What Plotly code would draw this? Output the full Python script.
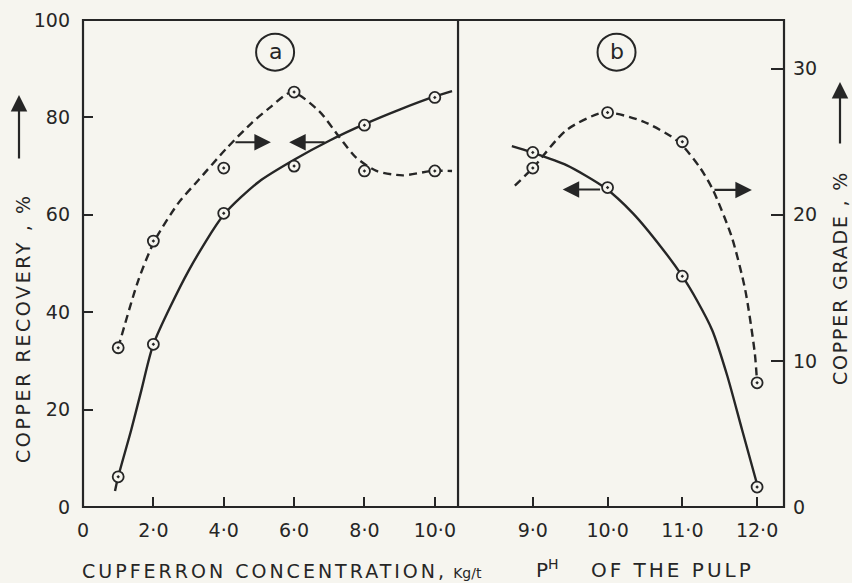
import plotly.graph_objects as go

# ---------------- data ----------------
# Panel (a): cupferron concentration, kg/t
conc_points = [1.0, 2.0, 4.0, 6.0, 8.0, 10.0]
rec_a_points = [6.2, 33.4, 60.3, 70.0, 78.4, 84.1]          # copper recovery, %
grade_a_points = [10.9, 18.2, 23.2, 28.4, 23.0, 23.0]       # copper grade, %

# traced curves of panel (a)
rec_a_curve_x = [0.91, 1.0, 1.37, 1.66, 2.0, 3.0, 4.0, 5.0, 6.0, 7.0, 8.0, 9.0, 10.0, 10.49]
rec_a_curve_y = [3.3, 6.2, 15.8, 24.0, 33.4, 48.5, 60.0, 66.8, 71.3, 75.2, 78.6, 81.6, 84.3, 85.4]
grade_a_curve_x = [1.0, 1.57, 2.03, 2.71, 3.29, 4.06, 4.8, 5.29, 5.94, 6.71, 7.29, 7.77, 8.34, 9.09, 9.91, 10.49]
grade_a_curve_y = [10.9, 15.5, 18.2, 20.8, 22.4, 24.5, 26.3, 27.3, 28.4, 27.1, 25.3, 23.9, 23.0, 22.7, 23.0, 23.0]

# Panel (b): pH of the pulp
ph_points = [9.0, 10.0, 11.0, 12.0]
rec_b_points = [72.8, 65.6, 47.4, 4.1]
grade_b_points = [23.2, 27.0, 25.0, 8.5]

rec_b_curve_x = [8.72, 8.99, 9.45, 9.96, 10.34, 10.72, 11.0, 11.2, 11.4, 11.6, 11.8, 12.01]
rec_b_curve_y = [74.1, 72.8, 70.2, 65.6, 60.3, 53.3, 47.4, 42.3, 36.3, 27.0, 15.8, 4.1]
grade_b_curve_x = [8.76, 9.0, 9.45, 9.95, 10.47, 10.95, 11.24, 11.41, 11.66, 11.84, 11.97, 12.0]
grade_b_curve_y = [22.0, 23.2, 25.8, 27.0, 26.4, 25.0, 23.2, 21.7, 18.5, 14.9, 10.5, 8.5]

# tick labels
conc_ticks = [0, 2, 4, 6, 8, 10]
conc_labels = ["0", "2·0", "4·0", "6·0", "8·0", "10·0"]
ph_ticks = [9, 10, 11, 12]
ph_labels = ["9·0", "10·0", "11·0", "12·0"]
rec_ticks = [0, 20, 40, 60, 80, 100]
grade_ticks = [0, 10, 20, 30]

# ---------------- style ----------------
BG = "#f6f5ef"
INK = "#262626"
FONT = "DejaVu Sans"
DASH = "8px,5px"

fig = go.Figure()

def curve(x, y, xa, ya, dashed):
    fig.add_trace(go.Scatter(
        x=x, y=y, xaxis=xa, yaxis=ya, mode="lines",
        line=dict(color=INK, width=2.4, shape="spline", smoothing=0.7,
                  dash=DASH if dashed else "solid"),
        hoverinfo="skip", showlegend=False))

def points(x, y, xa, ya):
    fig.add_trace(go.Scatter(
        x=x, y=y, xaxis=xa, yaxis=ya, mode="markers",
        marker=dict(symbol="circle-dot", size=11, color=BG,
                    line=dict(color=INK, width=1.8)),
        hoverinfo="skip", showlegend=False))

curve(rec_a_curve_x, rec_a_curve_y, "x", "y", False)
curve(grade_a_curve_x, grade_a_curve_y, "x", "y2", True)
curve(rec_b_curve_x, rec_b_curve_y, "x2", "y", False)
curve(grade_b_curve_x, grade_b_curve_y, "x2", "y2", True)
points(conc_points, rec_a_points, "x", "y")
points(conc_points, grade_a_points, "x", "y2")
points(ph_points, rec_b_points, "x2", "y")
points(ph_points, grade_b_points, "x2", "y2")

SPLIT = 0.535
tickfont = dict(family=FONT, size=19, color=INK)
common = dict(showgrid=False, zeroline=False, showline=False, ticks="inside",
              tickwidth=2, tickcolor=INK, tickfont=tickfont, automargin=False)

fig.update_layout(
    width=852, height=583,
    margin=dict(l=83, r=68, t=20, b=76),
    paper_bgcolor=BG, plot_bgcolor=BG,
    showlegend=False,
    xaxis=dict(domain=[0, SPLIT], range=[0, 10.66], anchor="y",
               tickvals=conc_ticks, ticktext=conc_labels, ticklen=10,
               ticklabelstandoff=10, **common),
    xaxis2=dict(domain=[SPLIT, 1], range=[8.0, 12.36], anchor="y",
                tickvals=ph_ticks, ticktext=ph_labels, ticklen=10,
                ticklabelstandoff=10, **common),
    yaxis=dict(range=[0, 100], anchor="x", tickvals=rec_ticks, ticklen=10,
               ticklabelstandoff=12, **common),
    yaxis2=dict(range=[0, 100 / 3], anchor="x2", overlaying="y", side="right",
                tickvals=grade_ticks, ticklen=13, ticklabelstandoff=8, **common),
)

# frame and divider
fig.add_shape(type="rect", xref="paper", yref="paper", x0=0, x1=1, y0=0, y1=1,
              line=dict(color=INK, width=2.2), layer="above")
fig.add_shape(type="line", xref="paper", yref="paper", x0=SPLIT, x1=SPLIT, y0=0, y1=1,
              line=dict(color=INK, width=2.2), layer="above")

# panel labels (a) and (b)
for xa, xc, lab in [("x", 5.46, "a"), ("x2", 10.12, "b")]:
    fig.add_shape(type="circle", xref=xa, yref="y", xsizemode="pixel", ysizemode="pixel",
                  xanchor=xc, yanchor=93.4, x0=-19, x1=19, y0=-18.5, y1=18.5,
                  line=dict(color=INK, width=2))
    fig.add_annotation(x=xc, y=93.4, xref=xa, yref="y", text=lab, showarrow=False,
                       xanchor="center", yanchor="middle",
                       font=dict(family=FONT, size=22, color=INK), yshift=1)

# arrows pointing to the axes
arrow = dict(showarrow=True, arrowhead=2, arrowsize=1.5, arrowwidth=2.2,
             arrowcolor=INK, text="", standoff=0, startstandoff=0)
fig.add_annotation(x=5.34, y=74.9, ax=4.29, ay=74.9, xref="x", yref="y",
                   axref="x", ayref="y", **arrow)
fig.add_annotation(x=5.86, y=74.9, ax=6.91, ay=74.9, xref="x", yref="y",
                   axref="x", ayref="y", **arrow)
fig.add_annotation(x=9.40, y=65.2, ax=9.92, ay=65.2, xref="x2", yref="y",
                   axref="x2", ayref="y", **arrow)
fig.add_annotation(x=11.93, y=21.7, ax=11.41, ay=21.7, xref="x2", yref="y2",
                   axref="x2", ayref="y2", **arrow)

# axis titles (positions in paper units of the plot frame)
W, H = 701.0, 487.0
def px(xp):
    return (xp - 83) / W
def py(yp):
    return (507 - yp) / H

def spaced(txt, sp):
    return "<span style='letter-spacing:%spx'>%s</span>" % (sp, txt)

center = dict(xanchor="center", yanchor="middle", showarrow=False)
f19 = dict(family=FONT, size=19, color=INK)
f20 = dict(family=FONT, size=20, color=INK)
fig.add_annotation(xref="paper", yref="paper", x=px(23), y=py(328), textangle=-90,
                   text=spaced("COPPER RECOVERY , %", 2.6), font=f19, **center)
fig.add_annotation(xref="paper", yref="paper", x=px(19), y=py(95), ax=0, ay=65, **arrow)
fig.add_annotation(xref="paper", yref="paper", x=px(840), y=py(278), textangle=-90,
                   text=spaced("COPPER GRADE , %", 1.8), font=f19, **center)
fig.add_annotation(xref="paper", yref="paper", x=px(840), y=py(82), ax=0, ay=63, **arrow)
fig.add_annotation(xref="paper", yref="paper", x=px(282), y=py(571),
                   text=spaced("CUPFERRON CONCENTRATION,", 3.0)
                   + " <span style='font-size:14px'>Kg/t</span>",
                   font=f19, **center)
fig.add_annotation(xref="paper", yref="paper", x=px(547), y=py(569),
                   text="P<sup>H</sup>", font=f20, **center)
fig.add_annotation(xref="paper", yref="paper", x=px(672), y=py(570),
                   text=spaced("OF THE PULP", 3.0), font=f20, **center)

fig.write_html("out.html", config={"displayModeBar": False},
               post_script="document.body.style.margin='0';")
